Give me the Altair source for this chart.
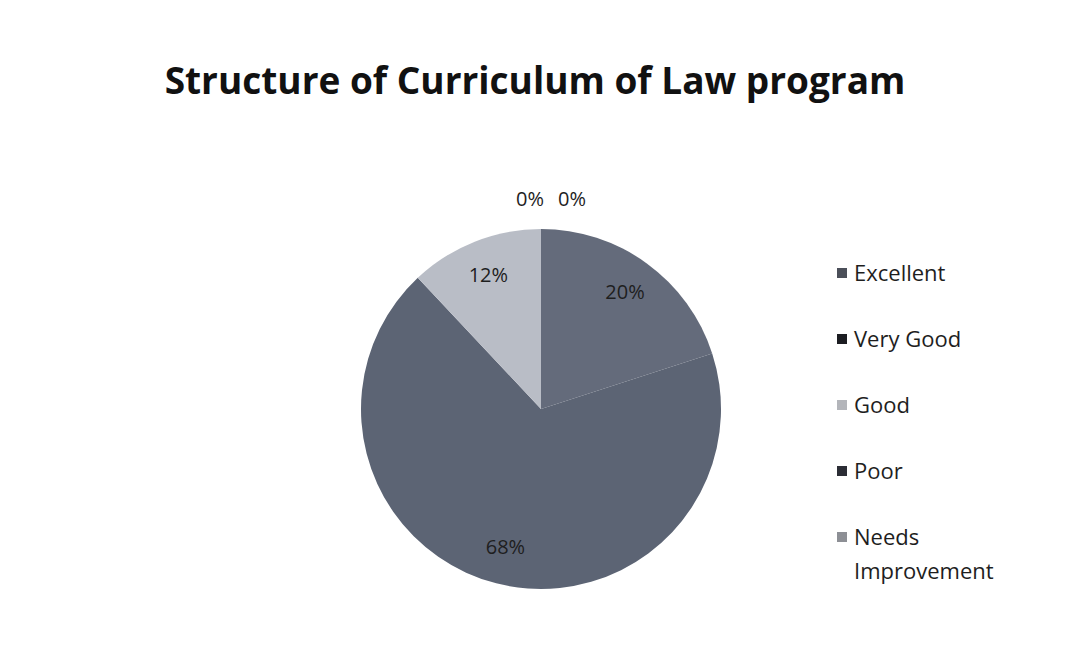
import altair as alt
import pandas as pd

categories = ["Excellent", "Very Good", "Good", "Poor", "Needs Improvement"]
legend_text = ["Excellent", "Very Good", "Good", "Poor", "Needs\nImprovement"]
values = [20, 68, 12, 0, 0]
labels = ["20%", "68%", "12%", "0%", "0%"]
slice_colors = ["#646b7b", "#5c6474", "#b9bdc6", "#2b2d35", "#8d8f95"]
legend_colors = ["#4b4f59", "#1c1d22", "#b3b5ba", "#2b2d35", "#8d8f95"]

df = pd.DataFrame({
    "category": categories,
    "value": values,
    "label": labels,
    "idx": list(range(len(categories))),
    "legend": legend_text,
})

TOP = 108       # page y of plot origin (approx)
LEFT = 8
CX, CY = 541 - LEFT, 408 - TOP
R = 180
FONT = "Open Sans"
LBL = 20

base = alt.Chart(df)
theta = alt.Theta("value:Q", stack=True)
order = alt.Order("idx:Q")

pie = base.mark_arc(outerRadius=R).encode(
    theta=theta,
    order=order,
    color=alt.Color("category:N", scale=alt.Scale(domain=categories, range=slice_colors), legend=None),
    x=alt.value(CX), y=alt.value(CY),
)

inner = base.transform_calculate(
    lbl="datum.value > 0 ? datum.label : ''"
).mark_text(radius=143, font=FONT, fontSize=LBL, color="#1e1e1e").encode(
    theta=theta, order=order, text="lbl:N", x=alt.value(CX), y=alt.value(CY),
)

zero1 = base.transform_calculate(
    lbl="datum.category == 'Poor' ? datum.label : ''"
).mark_text(radius=209, dx=-11, font=FONT, fontSize=LBL, color="#1e1e1e").encode(
    theta=theta, order=order, text="lbl:N", x=alt.value(CX), y=alt.value(CY),
)

zero2 = base.transform_calculate(
    lbl="datum.category == 'Needs Improvement' ? datum.label : ''"
).mark_text(radius=209, dx=31, font=FONT, fontSize=LBL, color="#1e1e1e").encode(
    theta=theta, order=order, text="lbl:N", x=alt.value(CX), y=alt.value(CY),
)

ys = alt.Scale(type="point", domain=categories, range=[272 - TOP, 536 - TOP], padding=0)

leg_sq = base.mark_square(size=100, opacity=1).encode(
    x=alt.value(842 - LEFT),
    y=alt.Y("category:N", scale=ys, axis=None),
    fill=alt.Fill("category:N", scale=alt.Scale(domain=categories, range=legend_colors), legend=None),
)

leg_tx = base.mark_text(align="left", baseline="alphabetic", dy=8, font=FONT, fontSize=22,
                        color="#1e1e1e", lineBreak="\n", lineHeight=34).encode(
    x=alt.value(854 - LEFT),
    y=alt.Y("category:N", scale=ys, axis=None),
    text="legend:N",
)

chart = alt.layer(pie, inner, zero1, zero2, leg_sq, leg_tx).properties(
    width=1054,
    height=530,
    padding={"left": 0, "right": 0, "top": 56, "bottom": 0},
    title=alt.TitleParams(
        "Structure of Curriculum of Law program",
        font=FONT, fontSize=37, fontWeight="bold", color="#111111",
        anchor="middle", offset=7,
    ),
    background="white",
).configure_view(stroke=None)

chart.save("out.html", embed_options={"renderer": "svg", "actions": False})
